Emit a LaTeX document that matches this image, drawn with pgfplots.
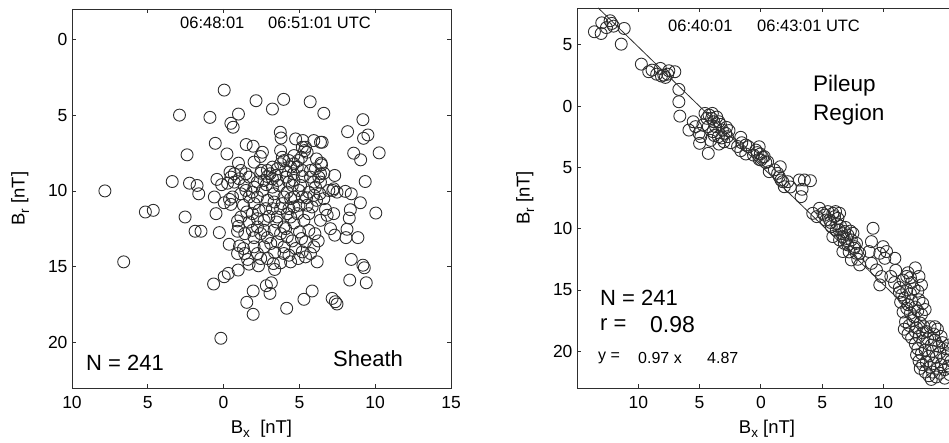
\documentclass[border=0pt]{standalone}
\usepackage{pgfplots}
\pgfplotsset{compat=1.18}
\usepackage{fontspec}
\setmainfont{Liberation Sans}
\definecolor{ink}{HTML}{2E2E2E}
\newcommand{\sub}[1]{\raisebox{-0.45ex}{\fontsize{13.5}{13.5}\selectfont #1}}
\begin{document}
\begin{tikzpicture}[x=1pt,y=1pt]
\clip (0,0) rectangle (949,443);
\pgfplotsset{
  every axis/.append style={
    scale only axis, anchor=south west,
    axis line style={ink, line width=0.8pt},
    tick style={ink, line width=0.8pt},
    tick align=inside, major tick length=4pt,
    ticklabel style={font=\fontsize{17.5}{20}\selectfont, text=black},
    xticklabel style={yshift=-5pt},
    yticklabel style={xshift=-1pt},
    label style={font=\fontsize{18.5}{20}\selectfont},
    /pgf/number format/assume math mode=true,
  },
  sc/.style={only marks, mark=o, mark size=6pt, mark options={draw=ink, line width=0.9pt}},
}
% ---------------- left panel ----------------
\begin{axis}[at={(72pt,55pt)}, width=379pt, height=379pt,
  xmin=-10, xmax=15, ymin=-23, ymax=2,
  xtick={-10,-5,0,5,10,15}, xticklabels={10,5,0,5,10,15},
  ytick={-20,-15,-10,-5,0}, yticklabels={20,15,10,5,0},
  xlabel={B\sub{x}\ \ [nT]}, ylabel={B\sub{r} [nT]},
  xlabel style={yshift=-4pt}, ylabel style={yshift=12pt}]
\addplot[sc] table {
x y
-7.83 -10.0
-6.59 -14.68
-5.16 -11.39
-4.64 -11.28
-3.39 -9.38
-2.91 -5.0
-2.41 -7.62
-2.25 -9.49
-1.75 -9.64
-1.64 -10.19
-2.54 -11.72
-1.88 -12.66
-1.49 -12.66
-0.90 -5.15
-0.55 -6.86
0.04 -3.35
0.48 -5.54
0.63 -5.8
0.98 -4.93
2.14 -4.05
3.22 -4.6
3.96 -3.96
5.71 -4.12
6.61 -4.88
9.19 -5.3
8.18 -6.09
9.23 -6.53
9.52 -6.31
8.58 -7.51
9.04 -7.95
10.26 -7.49
9.34 -9.38
9.02 -10.78
10.04 -11.46
8.42 -10.19
8.36 -11.24
8.29 -11.79
8.14 -12.53
8.86 -13.08
8.07 -13.08
8.42 -14.52
9.19 -14.9
9.28 -15.07
9.41 -16.06
8.32 -15.88
7.16 -17.09
7.37 -17.31
7.48 -17.46
5.84 -16.6
5.30 -17.15
4.16 -17.74
1.95 -18.14
1.53 -17.35
1.95 -16.6
2.82 -16.25
3.06 -16.76
3.15 -16.06
-0.18 -19.72
-0.66 -16.14
0.04 -15.66
0.31 -15.44
0.96 -15.22
-0.28 -12.75
0.37 -13.52
1.05 -13.63
-0.50 -11.5
0.04 -10.78
0.39 -10.56
0.59 -10.4
-0.44 -9.24
-0.13 -9.59
0.22 -7.56
1.49 -6.94
1.95 -7.05
2.56 -7.45
2.43 -7.73
3.74 -6.13
3.79 -6.51
4.75 -6.57
5.23 -6.68
5.95 -6.68
6.39 -6.79
6.50 -6.79
7.33 -8.98
7.26 -9.86
7.20 -9.97
8.03 -10.03
7.26 -11.5
6.72 -11.22
7.05 -12.49
7.33 -12.92
6.17 -14.68
5.95 -13.69
6.24 -13.3
6.02 -12.82
5.40 -14.35
4.92 -14.46
4.31 -14.24
3.76 -14.74
3.37 -15.18
3.28 -14.79
2.30 -14.94
1.68 -14.83
1.58 -14.52
1.31 -13.8
2.01 -13.69
2.67 -13.69
2.45 -14.46
3.37 -14.06
3.98 -13.69
4.53 -13.3
5.14 -13.14
5.01 -12.71
4.64 -12.11
5.30 -11.94
5.62 -11.5
5.51 -10.95
5.47 -10.45
5.95 -10.3
6.06 -9.75
6.39 -9.42
6.61 -8.83
6.46 -8.28
6.43 -8.17
6.13 -7.89
5.51 -7.45
5.40 -7.12
5.14 -7.78
4.92 -8.0
4.64 -8.21
4.31 -8.0
3.98 -8.0
4.42 -8.43
4.86 -8.43
5.19 -8.65
5.73 -8.65
5.73 -9.09
5.19 -9.05
4.60 -8.87
4.09 -8.65
3.76 -8.21
3.44 -8.98
3.06 -8.87
3.22 -9.2
3.54 -9.31
2.89 -9.05
2.67 -9.31
2.45 -8.83
2.82 -9.59
3.22 -9.75
3.65 -9.64
4.31 -9.42
4.53 -9.64
4.20 -10.08
3.98 -10.4
4.42 -10.51
4.97 -9.97
5.19 -10.4
5.84 -11.06
6.13 -10.62
6.35 -10.19
6.94 -9.97
6.61 -10.51
4.64 -11.06
4.20 -11.5
3.76 -11.17
3.33 -10.73
2.89 -10.62
2.78 -11.17
2.34 -11.28
2.01 -10.84
1.68 -10.4
1.90 -10.08
2.23 -10.4
1.47 -9.97
1.14 -10.19
1.31 -10.95
1.53 -11.39
1.14 -11.72
1.68 -12.05
2.23 -12.38
2.67 -12.6
2.45 -12.82
2.89 -13.08
3.33 -12.6
3.50 -12.05
3.98 -12.38
4.09 -12.49
3.54 -11.72
3.76 -12.82
4.20 -13.03
0.92 -11.98
0.98 -12.33
0.92 -12.66
1.40 -12.82
2.01 -13.08
0.70 -8.87
1.03 -9.2
1.14 -8.65
0.98 -8.17
1.47 -8.87
1.68 -9.09
0.70 -9.42
0.48 -9.09
2.01 -8.1
2.50 -8.65
2.89 -8.65
3.76 -7.34
3.87 -7.78
4.64 -7.67
5.19 -7.12
5.34 -7.34
6.06 -8.54
6.28 -9.09
7.48 -10.08
3.22 -11.17
-0.61 -10.4
0.26 -9.49
0.42 -8.76
0.48 -10.89
1.90 -11.5
2.23 -11.83
2.67 -11.94
2.99 -11.68
4.42 -11.72
4.86 -11.5
4.97 -10.95
3.33 -10.19
3.87 -10.84
4.31 -11.17
5.08 -9.64
5.62 -10.08
5.95 -9.42
6.39 -8.87
4.64 -9.31
4.14 -9.09
3.54 -8.54
3.22 -8.43
2.23 -9.42
2.01 -9.75
2.56 -9.97
1.36 -9.64
4.64 -10.4
3.11 -13.47
3.54 -13.36
4.75 -13.8
5.40 -13.36
5.62 -12.6
6.39 -11.94
6.83 -11.61
1.90 -12.6
2.23 -14.13
3.98 -14.13
4.42 -14.68
5.19 -14.02
1.40 -14.13
2.89 -14.46
5.73 -14.13
0.92 -14.13
};
\end{axis}
% ---------------- right panel ----------------
\begin{axis}[at={(577pt,55pt)}, width=380pt, height=380pt,
  xmin=-15, xmax=16, ymin=-23, ymax=8,
  xtick={-10,-5,0,5,10}, xticklabels={10,5,0,5,10},
  ytick={-20,-15,-10,-5,0,5}, yticklabels={20,15,10,5,0,5},
  xlabel={B\sub{x} [nT]}, ylabel={B\sub{r} [nT]},
  xlabel style={yshift=-4pt}, ylabel style={yshift=12pt}]
\addplot[sc] table {
x y
-13.58 6.06
-13.03 5.92
-12.98 6.79
-12.30 6.96
-12.02 6.52
-11.15 6.33
-11.39 5.05
-12.16 6.74
-12.6 6.4
-9.75 3.42
-9.15 2.8
-8.88 2.93
-8.20 3.07
-7.92 2.53
-7.79 2.34
-7.51 2.88
-7.02 2.8
-8.11 2.45
-7.6 2.6
-8.5 2.6
-6.69 1.36
-6.69 0.35
-6.61 -0.82
-5.87 -1.96
-5.52 -1.28
-5.33 -1.68
-5.05 -2.23
-5.0 -3.04
-4.29 -3.86
-4.56 -0.6
-4.23 -0.73
-4.02 -1.01
-3.96 -0.6
-3.83 -1.28
-3.69 -1.68
-3.91 -2.09
-3.47 -2.5
-3.14 -1.96
-2.81 -1.74
-2.87 -2.23
-3.42 -3.1
-3.01 -2.91
-4.29 -1.68
-4.73 -1.55
-3.42 -1.28
-2.73 -2.5
-2.46 -2.99
-4.4 -1.0
-3.6 -0.9
-3.3 -1.5
-3.8 -2.4
-2.6 -2.0
-4.9 -2.5
-4.1 -2.8
-3.2 -2.6
-1.64 -2.55
-1.56 -2.99
-1.23 -3.18
-1.64 -3.64
-1.23 -3.91
-1.01 -3.32
-1.9 -3.3
-0.41 -3.59
-0.14 -3.32
-0.05 -3.91
0.14 -4.18
-0.14 -4.35
0.27 -4.13
0.55 -4.54
0.0 -4.4
-0.3 -3.8
0.4 -4.6
-0.6 -4.0
0.68 -5.35
1.37 -5.49
1.58 -4.95
1.1 -5.2
1.50 -5.76
1.78 -6.17
1.64 -6.03
2.19 -6.17
1.91 -6.58
2.4 -6.6
3.14 -6.03
3.55 -6.03
4.04 -6.09
3.36 -6.79
3.28 -7.39
4.23 -8.75
4.56 -9.02
4.78 -8.34
5.05 -8.75
5.46 -8.61
5.60 -9.29
5.87 -8.75
6.01 -9.02
6.28 -9.16
6.09 -8.61
6.42 -8.75
5.2 -8.9
5.3 -9.3
5.7 -9.5
6.2 -9.6
6.5 -9.8
6.9 -9.9
5.74 -9.84
5.87 -10.65
6.37 -10.11
6.83 -10.24
6.69 -10.65
7.10 -10.52
7.38 -10.92
6.6 -10.4
7.3 -10.2
7.0 -10.8
6.69 -11.87
7.10 -11.33
7.65 -11.47
7.79 -12.01
7.38 -12.55
8.06 -12.96
6.42 -10.92
6.15 -10.11
7.51 -10.38
6.8 -11.2
7.2 -11.9
7.6 -11.6
7.8 -11.2
7.9 -12.5
9.15 -9.97
9.02 -11.06
8.83 -11.87
9.70 -12.01
9.97 -11.47
10.11 -12.42
10.93 -12.42
10.25 -11.87
9.02 -12.83
9.43 -13.37
9.84 -13.91
9.70 -14.59
8.06 -12.01
11.0 -13.4
10.6 -13.9
10.9 -14.4
11.3 -15.2
11.3 -14.8
11.6 -14.2
12.0 -13.6
12.3 -14.4
12.6 -13.2
12.9 -13.9
11.5 -15.4
11.9 -15.0
12.2 -15.3
12.5 -14.9
12.8 -15.1
13.1 -14.6
11.4 -16.0
11.7 -15.7
12.0 -16.2
12.3 -15.9
12.6 -16.4
12.9 -15.8
13.2 -16.1
11.6 -16.8
11.9 -16.5
12.2 -16.9
12.5 -17.2
12.8 -16.7
13.1 -17.0
13.4 -16.6
11.8 -17.6
12.1 -17.9
12.4 -17.5
12.7 -18.1
13.0 -17.7
13.3 -18.0
12.0 -18.6
12.3 -18.9
12.6 -18.4
12.9 -18.8
13.2 -18.5
11.7 -18.2
12.2 -14.0
11.9 -13.9
13.5 -18.4
13.8 -18.0
14.1 -18.6
14.4 -18.2
14.7 -18.8
13.2 -19.2
13.6 -19.0
13.9 -19.5
14.2 -19.1
14.5 -19.6
14.8 -19.3
15.1 -19.8
12.8 -19.8
13.1 -20.2
13.4 -19.9
13.7 -20.4
14.0 -20.0
14.3 -20.5
14.6 -20.1
14.9 -20.6
15.2 -20.3
15.5 -20.8
12.9 -20.8
13.2 -21.1
13.5 -20.9
13.8 -21.3
14.1 -21.0
14.4 -21.4
14.7 -21.1
15.0 -21.5
15.3 -21.2
13.4 -21.7
13.7 -22.0
14.0 -21.7
14.3 -22.1
14.6 -21.8
15.0 -22.2
15.4 -21.9
12.7 -20.3
13.0 -21.4
13.9 -22.3
14.2 -18.0
15.3 -19.5
12.6 -19.4
};
\addplot[no marks, ink, line width=0.8pt] coordinates {(-13.27,8) (16,-20.39)};
\end{axis}
% ---------------- texts ----------------
\begin{scope}[every node/.style={inner sep=0pt, anchor=west}]
\node[font=\fontsize{16.5}{18}\selectfont] at (180,420) {06:48:01};
\node[font=\fontsize{16.5}{18}\selectfont] at (268,420) {06:51:01 UTC};
\node[font=\fontsize{22}{24}\selectfont] at (86,80) {N = 241};
\node[font=\fontsize{22}{24}\selectfont] at (333,84) {Sheath};
\node[font=\fontsize{16.5}{18}\selectfont] at (668,417) {06:40:01};
\node[font=\fontsize{16.5}{18}\selectfont] at (757,417) {06:43:01 UTC};
\node[font=\fontsize{22.5}{24}\selectfont] at (813,357) {Pileup};
\node[font=\fontsize{22.5}{24}\selectfont] at (813,328) {Region};
\node[font=\fontsize{22}{24}\selectfont] at (600,145) {N = 241};
\node[font=\fontsize{22}{24}\selectfont] at (600,118) {r =};
\node[font=\fontsize{23}{24}\selectfont] at (650,118) {0.98};
\node[font=\fontsize{16}{18}\selectfont] at (598,85) {y =};
\node[font=\fontsize{16}{18}\selectfont] at (638,85) {0.97 x};
\node[font=\fontsize{16}{18}\selectfont] at (707,85) {4.87};
\end{scope}
\end{tikzpicture}
\end{document}
